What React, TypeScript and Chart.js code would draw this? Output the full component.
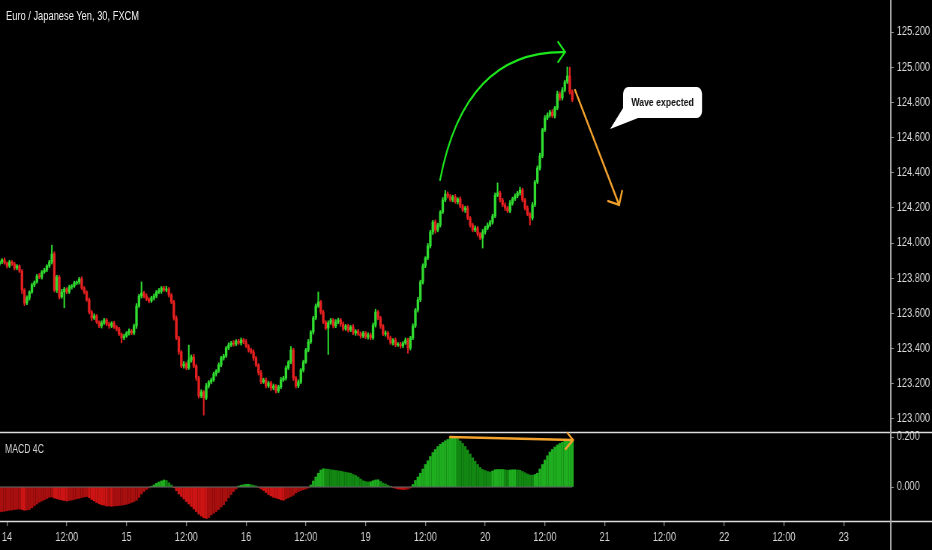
import React, { useEffect, useRef } from 'react';
import { Chart, registerables } from 'chart.js';

Chart.register(...registerables);

// ---- data ----
const TITLE = 'Euro / Japanese Yen, 30, FXCM';
const MACD_LABEL = 'MACD 4C';
const BUBBLE_TEXT = 'Wave expected';

// bar index counted in 30-minute bars from day "14" 00:00
const FIRST_BAR = -3;
const firstOpen = 123.88;

const closes = [
  123.893, 123.904, 123.887, 123.870, 123.893, 123.881, 123.858, 123.870, 123.841, 123.733,
  123.659, 123.688, 123.722, 123.762, 123.779, 123.813, 123.807, 123.836, 123.847, 123.870,
  123.893, 123.938, 123.733, 123.807, 123.694, 123.722, 123.739, 123.722, 123.750, 123.756,
  123.773, 123.779, 123.796, 123.745, 123.722, 123.677, 123.608, 123.574, 123.586, 123.551,
  123.529, 123.546, 123.563, 123.540, 123.529, 123.546, 123.523, 123.512, 123.483, 123.461,
  123.472, 123.489, 123.500, 123.489, 123.529, 123.642, 123.699, 123.716, 123.699, 123.682,
  123.671, 123.688, 123.699, 123.722, 123.728, 123.745, 123.733, 123.739, 123.705, 123.665,
  123.574, 123.461, 123.381, 123.301, 123.313, 123.290, 123.335, 123.352, 123.301, 123.233,
  123.131, 123.154, 123.119, 123.188, 123.210, 123.222, 123.256, 123.273, 123.307, 123.347,
  123.358, 123.404, 123.421, 123.432, 123.426, 123.443, 123.432, 123.449, 123.438, 123.415,
  123.392, 123.381, 123.347, 123.307, 123.262, 123.210, 123.222, 123.188, 123.205, 123.176,
  123.188, 123.159, 123.182, 123.222, 123.233, 123.290, 123.324, 123.392, 123.233, 123.188,
  123.210, 123.279, 123.324, 123.392, 123.438, 123.495, 123.574, 123.642, 123.665, 123.608,
  123.551, 123.517, 123.546, 123.563, 123.529, 123.551, 123.563, 123.540, 123.512, 123.529,
  123.506, 123.523, 123.489, 123.500, 123.483, 123.472, 123.489, 123.466, 123.478, 123.461,
  123.534, 123.608, 123.574, 123.529, 123.483, 123.489, 123.461, 123.432, 123.449, 123.421,
  123.426, 123.415, 123.432, 123.449, 123.404, 123.461, 123.529, 123.620, 123.677, 123.779,
  123.870, 123.915, 123.984, 124.063, 124.120, 124.074, 124.103, 124.177, 124.245, 124.279,
  124.268, 124.245, 124.262, 124.234, 124.251, 124.211, 124.188, 124.200, 124.143, 124.103,
  124.074, 124.086, 124.052, 124.029, 124.063, 124.086, 124.103, 124.120, 124.154, 124.273,
  124.285, 124.245, 124.217, 124.200, 124.183, 124.228, 124.251, 124.268, 124.285, 124.302,
  124.245, 124.200, 124.165, 124.143, 124.217, 124.347, 124.427, 124.495, 124.643, 124.711,
  124.728, 124.745, 124.723, 124.768, 124.848, 124.825, 124.870, 124.916, 124.950, 124.859,
  124.814,
];

// wick extents beyond the body, in 0.001 JPY
const upWick = [
  10, 8, 12, 6, 9, 7, 10, 8, 6, 9,
  8, 12, 7, 10, 6, 9, 14, 8, 10, 7,
  9, 50, 12, 10, 8, 15, 9, 7, 11, 8,
  10, 6, 9, 12, 8, 7, 10, 9, 12, 8,
  7, 12, 9, 8, 11, 7, 10, 8, 9, 6,
  10, 8, 12, 9, 11, 14, 10, 63, 9, 12,
  8, 10, 12, 9, 14, 8, 10, 16, 9, 8,
  10, 12, 9, 8, 14, 10, 85, 12, 16, 9,
  10, 12, 8, 14, 9, 11, 10, 8, 12, 9,
  10, 8, 12, 9, 14, 8, 10, 12, 9, 14,
  8, 10, 12, 9, 8, 14, 10, 12, 8, 9,
  11, 8, 10, 14, 9, 12, 8, 20, 10, 9,
  12, 8, 10, 9, 14, 8, 10, 12, 57, 9,
  10, 8, 12, 9, 8, 14, 10, 9, 12, 8,
  10, 9, 14, 8, 10, 12, 9, 8, 12, 10,
  12, 16, 9, 10, 8, 12, 9, 10, 8, 12,
  9, 10, 8, 12, 10, 9, 12, 8, 14, 10,
  12, 8, 14, 10, 9, 12, 10, 8, 14, 20,
  12, 9, 10, 14, 8, 12, 9, 10, 12, 8,
  10, 12, 9, 8, 14, 10, 12, 9, 10, 12,
  57, 10, 9, 12, 8, 14, 10, 12, 9, 16,
  10, 9, 12, 8, 14, 10, 12, 16, 10, 14,
  12, 10, 14, 9, 16, 12, 14, 10, 51, 50,
  12,
];
const loWick = [
  8, 10, 7, 12, 9, 8, 11, 10, 8, 20,
  14, 9, 12, 8, 10, 7, 9, 12, 8, 10,
  9, 12, 10, 14, 12, 8, 90, 10, 9, 12,
  8, 10, 12, 9, 11, 8, 10, 14, 9, 8,
  10, 12, 8, 9, 14, 10, 8, 12, 9, 28,
  10, 8, 12, 9, 10, 14, 8, 12, 10, 9,
  11, 8, 12, 10, 9, 14, 8, 10, 12, 9,
  12, 10, 14, 9, 12, 10, 8, 12, 10, 14,
  12, 10, 97, 9, 12, 10, 8, 12, 9, 10,
  12, 8, 10, 9, 12, 10, 8, 12, 10, 9,
  12, 10, 14, 9, 12, 10, 8, 12, 9, 14,
  10, 12, 9, 10, 8, 12, 9, 10, 14, 12,
  10, 9, 12, 8, 10, 9, 12, 10, 8, 12,
  9, 10, 150, 8, 12, 10, 9, 14, 10, 8,
  12, 9, 10, 14, 8, 12, 10, 9, 12, 10,
  9, 12, 10, 14, 9, 12, 10, 8, 12, 10,
  9, 12, 10, 8, 30, 12, 10, 9, 12, 10,
  12, 10, 9, 12, 14, 18, 10, 12, 9, 10,
  12, 9, 10, 8, 12, 10, 9, 14, 10, 12,
  10, 9, 12, 10, 57, 12, 10, 9, 12, 10,
  9, 12, 10, 14, 9, 10, 12, 9, 10, 12,
  10, 12, 9, 40, 12, 10, 9, 12, 10, 9,
  10, 12, 9, 12, 10, 14, 12, 10, 9, 12,
  10,
];

const macdHist = [
  -0.100, -0.098, -0.097, -0.095, -0.093, -0.092, -0.090, -0.089, -0.088, -0.090,
  -0.093, -0.092, -0.090, -0.083, -0.075, -0.068, -0.061, -0.056, -0.051, -0.046,
  -0.041, -0.040, -0.044, -0.047, -0.050, -0.052, -0.054, -0.056, -0.054, -0.052,
  -0.050, -0.047, -0.045, -0.042, -0.040, -0.038, -0.043, -0.050, -0.056, -0.062,
  -0.067, -0.071, -0.073, -0.076, -0.076, -0.077, -0.076, -0.075, -0.074, -0.073,
  -0.071, -0.069, -0.066, -0.062, -0.058, -0.053, -0.042, -0.028, -0.018, -0.010,
  -0.004, 0.003, 0.008, 0.015, 0.020, 0.024, 0.028, 0.026, 0.017, 0.008,
  -0.003, -0.015, -0.028, -0.038, -0.048, -0.058, -0.068, -0.078, -0.088, -0.098,
  -0.108, -0.116, -0.123, -0.126, -0.122, -0.112, -0.105, -0.098, -0.090, -0.080,
  -0.071, -0.057, -0.043, -0.030, -0.018, -0.008, 0.004, 0.007, 0.009, 0.011,
  0.011, 0.009, 0.007, 0.004, -0.002, -0.008, -0.014, -0.022, -0.030, -0.036,
  -0.041, -0.044, -0.047, -0.051, -0.053, -0.048, -0.043, -0.038, -0.033, -0.024,
  -0.018, -0.014, -0.011, -0.008, -0.004, 0.008, 0.024, 0.040, 0.055, 0.068,
  0.073, 0.072, 0.071, 0.069, 0.068, 0.066, 0.065, 0.063, 0.061, 0.059,
  0.057, 0.055, 0.050, 0.046, 0.040, 0.032, 0.025, 0.022, 0.020, 0.021,
  0.025, 0.028, 0.029, 0.023, 0.016, 0.012, 0.007, 0.003, -0.002, -0.005,
  -0.008, -0.009, -0.010, -0.010, -0.008, -0.004, 0.010, 0.026, 0.040, 0.055,
  0.072, 0.090, 0.105, 0.122, 0.138, 0.150, 0.162, 0.171, 0.178, 0.185,
  0.190, 0.195, 0.197, 0.197, 0.194, 0.184, 0.174, 0.162, 0.148, 0.132,
  0.117, 0.103, 0.090, 0.078, 0.070, 0.066, 0.062, 0.060, 0.064, 0.069,
  0.070, 0.070, 0.070, 0.069, 0.067, 0.068, 0.069, 0.069, 0.068, 0.067,
  0.062, 0.057, 0.052, 0.048, 0.047, 0.050, 0.055, 0.072, 0.090, 0.108,
  0.125, 0.140, 0.150, 0.160, 0.168, 0.174, 0.179, 0.183, 0.186, 0.187,
  0.188,
];

const priceTicks = [123.0, 123.2, 123.4, 123.6, 123.8, 124.0, 124.2, 124.4, 124.6, 124.8, 125.0, 125.2];
const macdTicks = [0, 0.2];
const xTickBars = [0, 24, 48, 72, 96, 120, 144, 168, 192, 216, 240, 264, 288, 312, 336];
const xTickLabels = ['14', '12:00', '15', '12:00', '16', '12:00', '19', '12:00', '20', '12:00', '21', '12:00', '22', '12:00', '23'];

// annotations, in data units [bar, price] / [bar, macd]
const arcPath = [[173.9, 124.359], [183.9, 125.098], [224.1, 125.086]];
const arcHead = [[221.3, 125.143], [224.1, 125.086], [221.3, 125.030]];
const dropArrow = [[228.1, 124.870], [245.8, 124.217]];
const dropHead = [[241.4, 124.239], [245.8, 124.217], [247.0, 124.296]];
const macdArrow = [[177.9, 0.200], [227.3, 0.188]];
const macdHead = [[225.1, 0.216], [227.3, 0.188], [224.3, 0.152]];
const bubbleBox = [[247.4, 124.887], [279.1, 124.711]];
const bubbleTip = [242.2, 124.649];

// The chart is drawn on a wider canvas and shown squeezed to the page width,
// which reproduces the narrow lettering of the reference.
const VIEW_W = 932;
const VIEW_H = 550;
const CANVAS_W = 1243;
const SX = VIEW_W / CANVAS_W;

const FONT = '"Liberation Sans", Arial, sans-serif';
const GREEN = '#30dc30';
const RED = '#e52020';

export default function App() {
  const ref = useRef<HTMLCanvasElement | null>(null);

  useEffect(() => {
    const canvas = ref.current;
    if (!canvas) return;

    const candles = closes.map((c, k) => {
      const o = k === 0 ? firstOpen : closes[k - 1];
      return {
        x: FIRST_BAR + k,
        o,
        c,
        hi: Math.max(o, c) + upWick[k] / 1000,
        lo: Math.min(o, c) - loWick[k] / 1000,
      };
    });
    const candleColors = candles.map((d) => (d.c >= d.o ? GREEN : RED));

    const macdColors = macdHist.map((v, k) => {
      const prev = k === 0 ? v : macdHist[k - 1];
      const up = v >= prev;
      if (v >= 0) return up ? '#1fae1f' : '#128812';
      return up ? '#a80f0f' : '#cc1414';
    });

    const overlay = {
      id: 'overlay',
      afterDatasetsDraw(chart: any) {
        const { ctx, chartArea } = chart;
        const xs = chart.scales.x;
        const ys = chart.scales.y;
        const ys2 = chart.scales.y2;
        const P = (p: number[]) => [xs.getPixelForValue(p[0]), ys.getPixelForValue(p[1])];
        const M = (p: number[]) => [xs.getPixelForValue(p[0]), ys2.getPixelForValue(p[1])];
        const W = chart.width;
        const H = chart.height;
        ctx.save();

        // panel separators and price-axis line
        ctx.strokeStyle = '#dcdcdc';
        ctx.lineWidth = 1.3;
        ctx.beginPath();
        ctx.moveTo(0, Math.round(ys2.top) + 0.5);
        ctx.lineTo(W, Math.round(ys2.top) + 0.5);
        ctx.moveTo(0, Math.round(chartArea.bottom) + 0.5);
        ctx.lineTo(W, Math.round(chartArea.bottom) + 0.5);
        ctx.stroke();
        ctx.strokeStyle = '#a8a8a8';
        ctx.lineWidth = 2;
        ctx.beginPath();
        ctx.moveTo(chartArea.right + 1, 0);
        ctx.lineTo(chartArea.right + 1, H);
        ctx.stroke();

        ctx.lineCap = 'round';
        ctx.lineJoin = 'round';
        const poly = (pts: number[][], map: (p: number[]) => number[]) => {
          ctx.beginPath();
          pts.forEach((p, i) => {
            const q = map(p);
            if (i === 0) ctx.moveTo(q[0], q[1]);
            else ctx.lineTo(q[0], q[1]);
          });
          ctx.stroke();
        };

        // green arc
        const a0 = P(arcPath[0]);
        const a1 = P(arcPath[1]);
        const a2 = P(arcPath[2]);
        ctx.strokeStyle = '#1de81d';
        ctx.lineWidth = 2.2;
        ctx.beginPath();
        ctx.moveTo(a0[0], a0[1]);
        ctx.quadraticCurveTo(a1[0], a1[1], a2[0], a2[1]);
        ctx.stroke();
        poly(arcHead, P);

        // orange arrows
        ctx.strokeStyle = '#f2a22c';
        ctx.lineWidth = 2.4;
        poly(dropArrow, P);
        poly(dropHead, P);
        poly(macdArrow, M);
        poly(macdHead, M);

        // speech bubble
        const b0 = P(bubbleBox[0]);
        const b1 = P(bubbleBox[1]);
        const tip = P(bubbleTip);
        const L = b0[0], T = b0[1], R = b1[0], B = b1[1];
        const r = 7;
        ctx.fillStyle = '#ffffff';
        ctx.beginPath();
        ctx.moveTo(L + r, T);
        ctx.lineTo(R - r, T);
        ctx.arcTo(R, T, R, T + r, r);
        ctx.lineTo(R, B - r);
        ctx.arcTo(R, B, R - r, B, r);
        ctx.lineTo(L + 20, B);
        ctx.lineTo(tip[0], tip[1]);
        ctx.lineTo(L, B - 10);
        ctx.lineTo(L, T + r);
        ctx.arcTo(L, T, L + r, T, r);
        ctx.closePath();
        ctx.fill();
        ctx.fillStyle = '#111111';
        ctx.font = 'bold 11.6px ' + FONT;
        ctx.textAlign = 'center';
        ctx.textBaseline = 'middle';
        ctx.fillText(BUBBLE_TEXT, (L + R) / 2, (T + B) / 2 + 0.5);

        ctx.restore();
      },
    };

    const noPad = (s: any) => {
      s.paddingTop = 0;
      s.paddingBottom = 0;
      s.paddingLeft = 0;
      s.paddingRight = 0;
    };

    const tickFont = { family: FONT, size: 12.3 };

    const chart = new Chart(canvas, {
      type: 'bar',
      data: {
        datasets: [
          {
            type: 'line',
            data: [
              { x: FIRST_BAR, y: 0 },
              { x: FIRST_BAR + macdHist.length - 1, y: 0 },
            ],
            yAxisID: 'y2',
            borderColor: '#6e6e6e',
            borderWidth: 1,
            pointRadius: 0,
            order: -1,
          } as any,
          {
            data: macdHist.map((v, k) => ({ x: FIRST_BAR + k, y: v })),
            yAxisID: 'y2',
            backgroundColor: macdColors,
            borderWidth: 0,
            barThickness: 2.8,
            grouped: false,
            order: 2,
          } as any,
          {
            data: candles.map((d) => ({ x: d.x, y: [d.lo, d.hi] })),
            yAxisID: 'y',
            backgroundColor: candleColors,
            borderWidth: 0,
            barThickness: 1.4,
            grouped: false,
            order: 1,
          } as any,
          {
            data: candles.map((d) => ({ x: d.x, y: [d.o, d.c] })),
            yAxisID: 'y',
            backgroundColor: candleColors,
            borderWidth: 0,
            barThickness: 2.7,
            minBarLength: 1,
            grouped: false,
            order: 0,
          } as any,
        ],
      },
      options: {
        responsive: false,
        animation: false,
        events: [],
        layout: { padding: 0 },
        plugins: { legend: { display: false }, tooltip: { enabled: false }, title: { display: false } },
        scales: {
          x: {
            type: 'linear',
            position: 'bottom',
            offset: false,
            min: -2.81,
            max: 354.6,
            afterFit: (s: any) => {
              s.height = 29;
              noPad(s);
            },
            afterBuildTicks: (s: any) => {
              s.ticks = xTickBars.map((v) => ({ value: v }));
            },
            grid: { offset: false, drawOnChartArea: false, drawTicks: true, tickLength: 5, tickColor: '#8a8a8a', color: '#8a8a8a', lineWidth: 1.3 },
            border: { display: false },
            ticks: {
              color: '#dadada',
              font: tickFont,
              padding: 4,
              autoSkip: false,
              maxRotation: 0,
              callback: (v: any) => {
                const idx = xTickBars.indexOf(Number(v));
                return idx >= 0 ? xTickLabels[idx] : '';
              },
            },
          },
          y: {
            type: 'linear',
            position: 'right',
            stack: 'panes',
            stackWeight: 432,
            min: 122.926,
            max: 125.382,
            afterFit: (s: any) => {
              s.width = 56;
              noPad(s);
            },
            afterBuildTicks: (s: any) => {
              s.ticks = priceTicks.map((v) => ({ value: v }));
            },
            grid: { drawOnChartArea: false, drawTicks: true, tickLength: 5, tickColor: '#8a8a8a', color: '#8a8a8a' },
            border: { display: false },
            ticks: {
              color: '#dadada',
              font: tickFont,
              padding: 4,
              autoSkip: false,
              callback: (v: any) => Number(v).toFixed(3),
            },
          },
          y2: {
            type: 'linear',
            position: 'right',
            stack: 'panes',
            stackWeight: 89,
            min: -0.136,
            max: 0.22,
            afterFit: (s: any) => {
              s.width = 56;
              noPad(s);
            },
            afterBuildTicks: (s: any) => {
              s.ticks = macdTicks.map((v) => ({ value: v }));
            },
            grid: { drawOnChartArea: false, drawTicks: true, tickLength: 5, tickColor: '#8a8a8a', color: '#8a8a8a' },
            border: { display: false },
            ticks: {
              color: '#dadada',
              font: tickFont,
              padding: 4,
              autoSkip: false,
              callback: (v: any) => Number(v).toFixed(3),
            },
          },
        },
      } as any,
      plugins: [overlay],
    });

    return () => {
      chart.destroy();
    };
  }, []);

  const squeezed = {
    position: 'absolute' as const,
    transformOrigin: 'left top',
    whiteSpace: 'nowrap' as const,
  };

  return (
    <div style={{ position: 'absolute', left: 0, top: 0, width: VIEW_W, height: VIEW_H, background: '#000', overflow: 'hidden' }}>
      <canvas ref={ref} width={CANVAS_W} height={VIEW_H} style={{ display: 'block', width: VIEW_W, height: VIEW_H }} />
      <div style={{ ...squeezed, transform: 'scaleX(0.69)', left: 6, top: 8, color: '#ededed', font: '13.5px ' + FONT }}>{TITLE}</div>
      <div style={{ ...squeezed, transform: `scaleX(${SX * 0.96})`, left: 5, top: 442, color: '#d0d0d0', font: '12px ' + FONT }}>{MACD_LABEL}</div>
    </div>
  );
}
